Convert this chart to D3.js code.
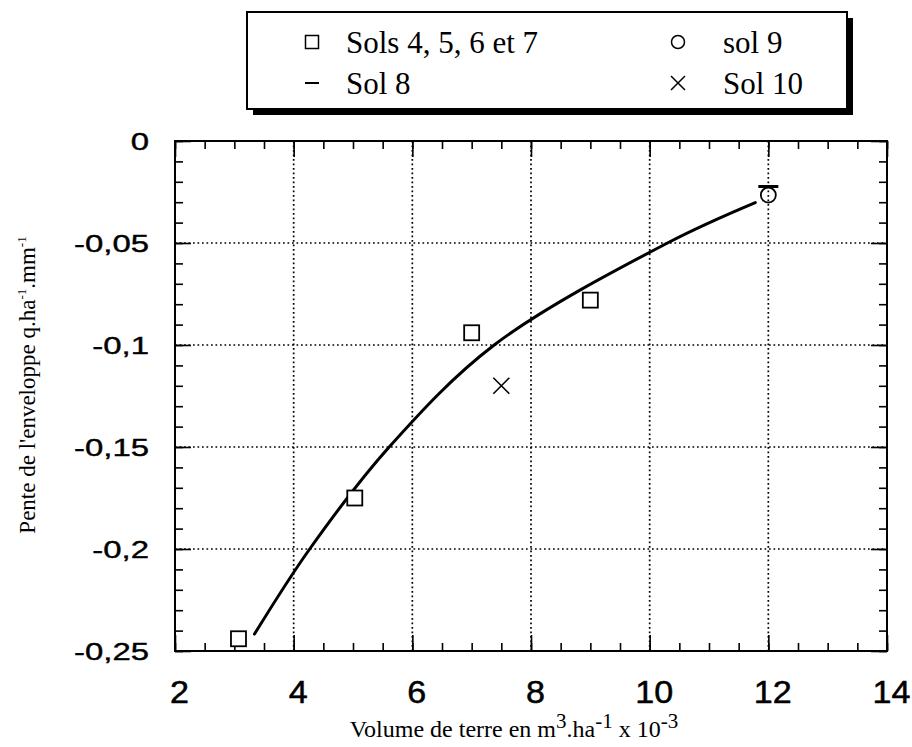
<!DOCTYPE html>
<html>
<head>
<meta charset="utf-8">
<script src="https://cdn.jsdelivr.net/npm/d3@7"></script>
<style>
  html, body { margin: 0; padding: 0; background: #fff; }
  svg { display: block; }
</style>
</head>
<body>
<svg id="chart" width="912" height="747"></svg>
<script>
// Measured points per soil group (volume of soil, slope of the envelope)
const sols4to7X = [3.07, 5.03, 7.0, 9.0];
const sols4to7Y = [-0.244, -0.175, -0.094, -0.078];
const sol8X = [12.0];
const sol8Y = [-0.0223];
const sol9X = [12.0];
const sol9Y = [-0.0265];
const sol10X = [7.5];
const sol10Y = [-0.120];

// Fitted trend curve
const fitX = [3.34, 4.27, 5.61, 7.38, 10.3, 11.78];
const fitY = [-0.2417, -0.2, -0.150, -0.1, -0.05, -0.0302];

// Axis ticks and labels
const xTicks = [2, 4, 6, 8, 10, 12, 14];
const xTickLabels = ["2", "4", "6", "8", "10", "12", "14"];
const yTicks = [0, -0.05, -0.1, -0.15, -0.2, -0.25];
const yTickLabels = ["0", "-0,05", "-0,1", "-0,15", "-0,2", "-0,25"];

const legendLabels = ["Sols 4, 5, 6 et 7", "sol 9", "Sol 8", "Sol 10"];

const svg = d3.select("#chart");
const x = d3.scaleLinear().domain([2, 14]).range([175, 887]);
const y = d3.scaleLinear().domain([-0.25, 0]).range([651, 141]);
const [x0, x1] = x.range();
const [yb, yt] = y.range();

const sansFont = "'Liberation Sans', Arial, Helvetica, sans-serif";
const serifFont = "'Liberation Serif', 'Times New Roman', Times, serif";

// Dotted grid at interior major ticks
const grid = svg.append("g");
xTicks.filter(v => v > 2 && v < 14).forEach(v => {
  grid.append("line").attr("x1", x(v)).attr("x2", x(v)).attr("y1", yt).attr("y2", yb)
    .attr("stroke", "#000").attr("stroke-width", 1.7).attr("stroke-dasharray", "1.7,2.8");
});
yTicks.filter(v => v < 0 && v > -0.25).forEach(v => {
  grid.append("line").attr("x1", x0).attr("x2", x1).attr("y1", y(v)).attr("y2", y(v))
    .attr("stroke", "#000").attr("stroke-width", 1.7).attr("stroke-dasharray", "1.7,2.8");
});

// Inward minor ticks on all four sides
const xMinor = d3.range(2, 14.001, 0.5);
const yMinor = d3.range(-25, 0.5, 1).map(d => d / 100);
function styleAxis(g) {
  g.select(".domain").remove();
  g.selectAll(".tick line").attr("stroke", "#000").attr("stroke-width", 1.6);
}
svg.append("g").attr("transform", `translate(0,${yb})`)
  .call(d3.axisBottom(x).tickValues(xMinor).tickSize(-8).tickFormat("")).call(styleAxis);
svg.append("g").attr("transform", `translate(0,${yt})`)
  .call(d3.axisTop(x).tickValues(xMinor).tickSize(-8).tickFormat("")).call(styleAxis);
svg.append("g").attr("transform", `translate(${x0},0)`)
  .call(d3.axisLeft(y).tickValues(yMinor).tickSize(-8).tickFormat("")).call(styleAxis);
svg.append("g").attr("transform", `translate(${x1},0)`)
  .call(d3.axisRight(y).tickValues(yMinor).tickSize(-8).tickFormat("")).call(styleAxis);

// Longer solid major ticks
svg.append("g").attr("transform", `translate(0,${yb})`)
  .call(d3.axisBottom(x).tickValues(xTicks).tickSize(-16).tickFormat("")).call(styleAxis);
svg.append("g").attr("transform", `translate(0,${yt})`)
  .call(d3.axisTop(x).tickValues(xTicks).tickSize(-16).tickFormat("")).call(styleAxis);
svg.append("g").attr("transform", `translate(${x0},0)`)
  .call(d3.axisLeft(y).tickValues(yTicks).tickSize(-16).tickFormat("")).call(styleAxis);
svg.append("g").attr("transform", `translate(${x1},0)`)
  .call(d3.axisRight(y).tickValues(yTicks).tickSize(-16).tickFormat("")).call(styleAxis);

// Frame
svg.append("rect").attr("x", x0).attr("y", yt).attr("width", x1 - x0).attr("height", yb - yt)
  .attr("fill", "none").attr("stroke", "#000").attr("stroke-width", 2);

// X tick labels
const xl = svg.append("g").attr("transform", `translate(0,${yb})`)
  .call(d3.axisBottom(x).tickValues(xTicks).tickSize(0).tickPadding(0)
    .tickFormat((d, i) => xTickLabels[i]));
xl.select(".domain").remove();
xl.selectAll(".tick text")
  .attr("y", 0).attr("dy", null)
  .attr("font-family", sansFont).attr("font-size", 31).attr("fill", "#000")
  .attr("stroke", "#000").attr("stroke-width", 0.5)
  .attr("transform", "translate(4,52) scale(1.1,1)");

// Y tick labels
const yl = svg.append("g").attr("transform", `translate(${x0},0)`)
  .call(d3.axisLeft(y).tickValues(yTicks).tickSize(0).tickPadding(0)
    .tickFormat((d, i) => yTickLabels[i]));
yl.select(".domain").remove();
yl.selectAll(".tick text")
  .attr("x", 0).attr("dy", null).attr("y", 0)
  .attr("font-family", sansFont).attr("font-size", 23.5).attr("fill", "#000")
  .attr("stroke", "#000").attr("stroke-width", 0.4)
  .attr("dominant-baseline", "central")
  .attr("transform", "translate(-26,0) scale(1.4,1)");

// Fitted curve
svg.append("path")
  .datum(fitX.map((v, i) => [v, fitY[i]]))
  .attr("fill", "none").attr("stroke", "#000").attr("stroke-width", 3)
  .attr("stroke-linecap", "round")
  .attr("d", d3.line().x(d => x(d[0])).y(d => y(d[1])).curve(d3.curveCatmullRom.alpha(0.5)));

// Markers
const squareSize = 15;
svg.append("g").selectAll("rect").data(sols4to7X.map((v, i) => [v, sols4to7Y[i]])).join("rect")
  .attr("x", d => x(d[0]) - squareSize / 2).attr("y", d => y(d[1]) - squareSize / 2)
  .attr("width", squareSize).attr("height", squareSize)
  .attr("fill", "#fff").attr("stroke", "#000").attr("stroke-width", 1.8);

svg.append("g").selectAll("circle").data(sol9X.map((v, i) => [v, sol9Y[i]])).join("circle")
  .attr("cx", d => x(d[0])).attr("cy", d => y(d[1])).attr("r", 7.5)
  .attr("fill", "none").attr("stroke", "#000").attr("stroke-width", 1.8);

svg.append("g").selectAll("line").data(sol8X.map((v, i) => [v, sol8Y[i]])).join("line")
  .attr("x1", d => x(d[0]) - 10).attr("x2", d => x(d[0]) + 10)
  .attr("y1", d => y(d[1])).attr("y2", d => y(d[1]))
  .attr("stroke", "#000").attr("stroke-width", 3);

const crossG = svg.append("g");
sol10X.forEach((v, i) => {
  const cx = x(v), cy = y(sol10Y[i]), h = 8;
  crossG.append("path")
    .attr("d", `M${cx - h},${cy - h}L${cx + h},${cy + h}M${cx - h},${cy + h}L${cx + h},${cy - h}`)
    .attr("stroke", "#000").attr("stroke-width", 1.6).attr("fill", "none");
});

// Legend with drop shadow
const lg = svg.append("g");
const lx = 247, ly = 12, lw = 600, lh = 97;
lg.append("rect").attr("x", lx + 6).attr("y", ly + 6).attr("width", lw).attr("height", lh).attr("fill", "#000");
lg.append("rect").attr("x", lx).attr("y", ly).attr("width", lw).attr("height", lh)
  .attr("fill", "#fff").attr("stroke", "#000").attr("stroke-width", 2);

const col1 = 312, col2 = 678, txt1 = 346, txt2 = 723, row1 = 42, row2 = 83;
lg.append("rect").attr("x", col1 - 6.5).attr("y", row1 - 6.5).attr("width", 13).attr("height", 13)
  .attr("fill", "none").attr("stroke", "#000").attr("stroke-width", 1.5);
lg.append("circle").attr("cx", col2).attr("cy", row1).attr("r", 6.5)
  .attr("fill", "none").attr("stroke", "#000").attr("stroke-width", 1.5);
lg.append("line").attr("x1", col1 - 7).attr("x2", col1 + 7).attr("y1", row2).attr("y2", row2)
  .attr("stroke", "#000").attr("stroke-width", 2);
lg.append("path")
  .attr("d", `M${col2 - 7},${row2 - 7}L${col2 + 7},${row2 + 7}M${col2 - 7},${row2 + 7}L${col2 + 7},${row2 - 7}`)
  .attr("stroke", "#000").attr("stroke-width", 1.5);
const legendPos = [[txt1, row1], [txt2, row1], [txt1, row2], [txt2, row2]];
legendLabels.forEach((t, i) => {
  lg.append("text").attr("x", legendPos[i][0]).attr("y", legendPos[i][1] + 11)
    .attr("font-family", serifFont).attr("font-size", 31).attr("fill", "#000").text(t);
});

// Axis titles
const xt = svg.append("text").attr("x", 514).attr("y", 737).attr("text-anchor", "middle")
  .attr("font-family", serifFont).attr("font-size", 24).attr("fill", "#000");
xt.append("tspan").text("Volume de terre en m");
xt.append("tspan").attr("dy", -9).attr("font-size", 21).text("3");
xt.append("tspan").attr("dy", 9).text(".ha");
xt.append("tspan").attr("dy", -9).attr("font-size", 21).text("-1");
xt.append("tspan").attr("dy", 9).text(" x 10");
xt.append("tspan").attr("dy", -9).attr("font-size", 21).text("-3");

const yt2 = svg.append("text").attr("transform", "translate(35,385) rotate(-90)")
  .attr("text-anchor", "middle")
  .attr("font-family", serifFont).attr("font-size", 23).attr("fill", "#000");
yt2.append("tspan").text("Pente de l'enveloppe q.ha");
yt2.append("tspan").attr("dy", -9).attr("font-size", 13).text("-1");
yt2.append("tspan").attr("dy", 9).text(".mm");
yt2.append("tspan").attr("dy", -9).attr("font-size", 13).text("-1");
</script>
</body>
</html>
